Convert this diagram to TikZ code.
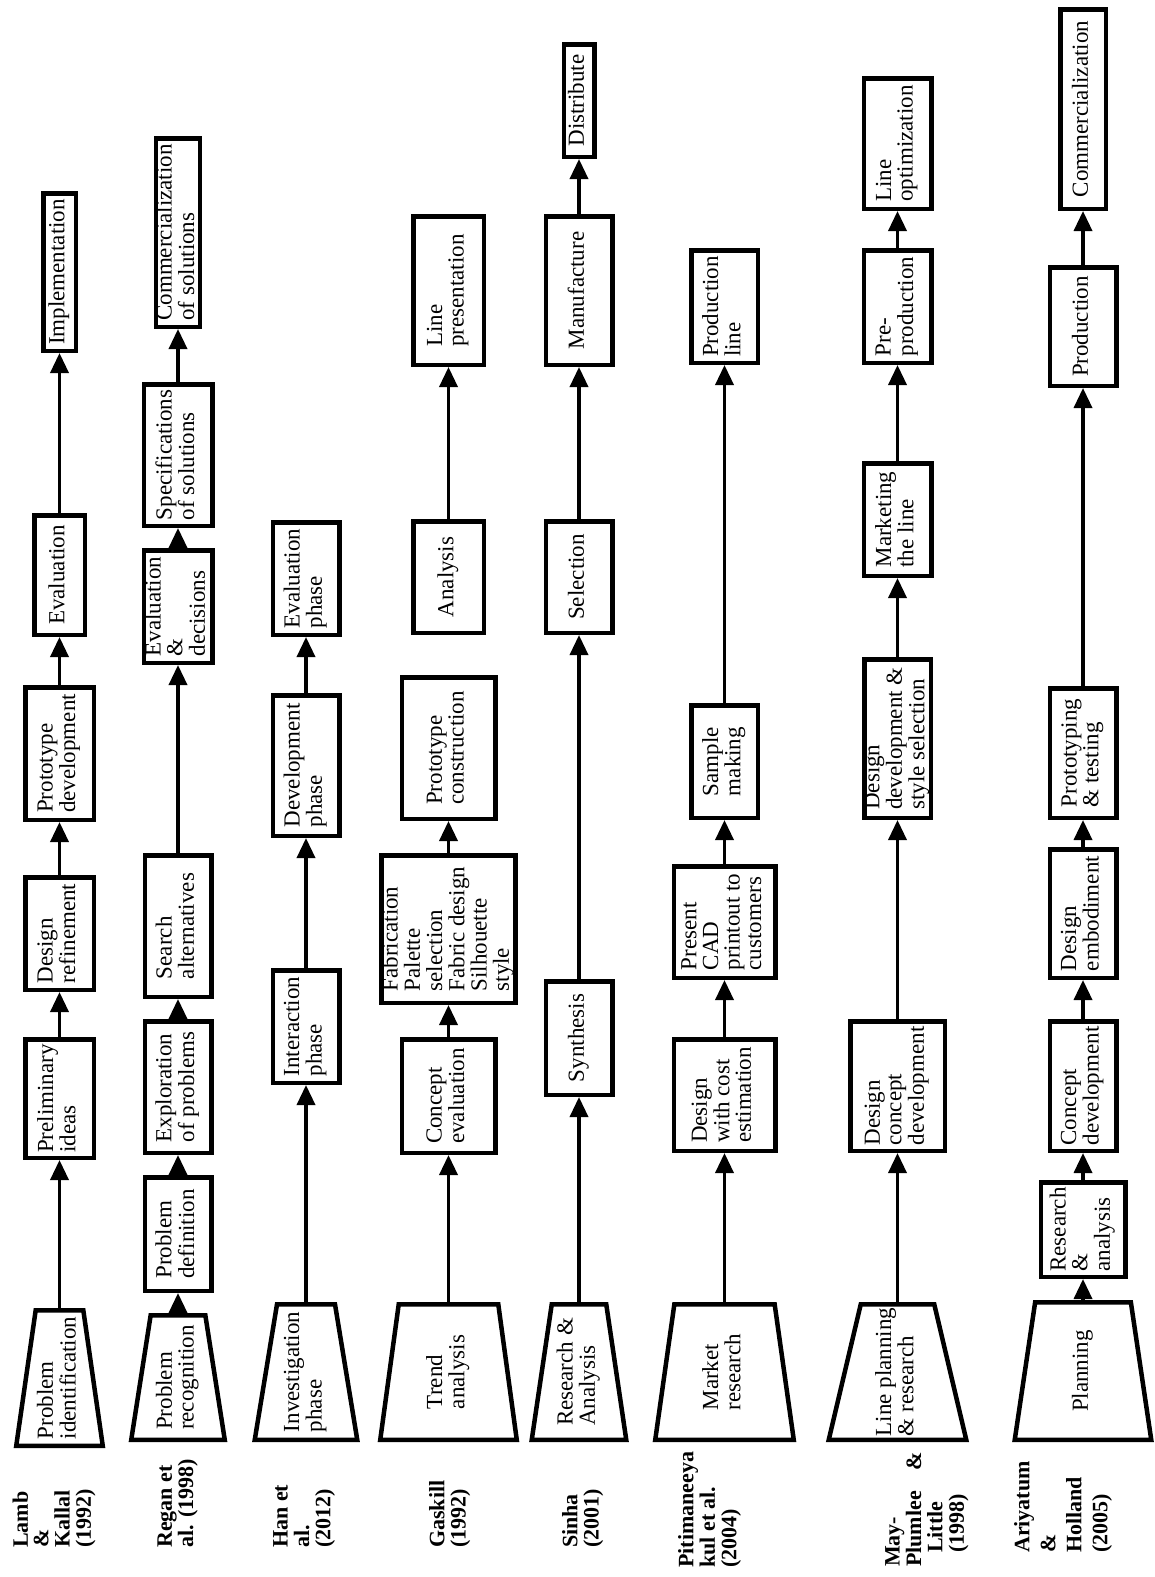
\documentclass[tikz,border=0pt]{standalone}
\usepackage{fontspec}
\setmainfont{Liberation Serif}
\usetikzlibrary{arrows.meta,shapes.geometric}
\newcommand\vt[1]{\rotatebox{90}{\begin{tabular}{@{}l@{}}#1\end{tabular}}}
\begin{document}
\begin{tikzpicture}[x=1pt,y=-1pt,
  box/.style={draw, line width=4.5pt, rectangle, inner sep=0pt, outer sep=2.25pt,
    font=\fontsize{23}{21.5}\selectfont},
  trap/.style={draw, line width=4.5pt, trapezium, trapezium stretches body,
    trapezium left angle=#1, trapezium right angle=#1,
    inner sep=0pt, outer sep=2.25pt, font=\fontsize{23}{21.5}\selectfont},
  arr/.style={line width=3.5pt, -{Triangle[length=20pt,width=18pt]}},
  lab/.style={inner sep=0pt, anchor=south west, font=\bfseries\fontsize{22}{20}\selectfont}]
\useasboundingbox (0,0) rectangle (1155,1577);

% ---------- Lamb & Kallal ----------
\node[trap=81, minimum width=86.5pt, minimum height=135.5pt] (L1) at (59.5,1378) {\vt{Problem\\identification}};
\node[box, minimum width=68.5pt, minimum height=118.5pt] (L2) at (59.5,1098.5) {\vt{Preliminary\\ideas}};
\node[box, minimum width=68.5pt, minimum height=112.5pt] (L3) at (59.5,933.5) {\vt{Design\\refinement}};
\node[box, minimum width=68.5pt, minimum height=132.5pt] (L4) at (59.5,753.5) {\vt{Prototype\\development}};
\node[box, minimum width=50.5pt, minimum height=119.5pt] (L5) at (59.5,575) {\vt{Evaluation}};
\node[box, minimum width=32.5pt, minimum height=157.5pt] (L6) at (59.5,272) {\vt{Implementation}};
\draw[arr] (L1) -- (L2);
\draw[arr] (L2) -- (L3);
\draw[arr] (L3) -- (L4);
\draw[arr] (L4) -- (L5);
\draw[arr] (L5) -- (L6);
\node[lab] (tL) at (12.3,1548) {\vt{Lamb\\\&\\Kallal\\(1992)}};

% ---------- Regan et al. ----------
\node[trap=79.5, minimum width=93.5pt, minimum height=124.5pt] (R1) at (178,1377.5) {\vt{Problem\\recognition}};
\node[box, minimum width=66.5pt, minimum height=113.5pt] (R2) at (178,1234) {\vt{Problem\\definition}};
\node[box, minimum width=66.5pt, minimum height=131.5pt] (R3) at (178,1087) {\vt{Exploration\\of problems}};
\node[box, minimum width=66.5pt, minimum height=141.5pt] (R4) at (178,926) {\vt{Search\\alternatives}};
\node[box, minimum width=68.5pt, minimum height=112.5pt] (R5) at (178,606.5) {\vt{Evaluation\\\&\\decisions}};
\node[box, minimum width=68.5pt, minimum height=141.5pt] (R6) at (178,455) {\vt{Specifications\\of solutions}};
\node[box, minimum width=40.5pt, minimum height=188.5pt, font=\fontsize{23}{20.5}\selectfont] (R7) at (178,232.5) {\vt{Commercialization\\of solutions}};
\draw[arr] (R1) -- (R2);
\draw[arr] (R2) -- (R3);
\draw[arr] (R3) -- (R4);
\draw[arr] (R4) -- (R5);
\draw[arr] (R5) -- (R6);
\draw[arr] (R6) -- (R7);
\node[lab] (tR) at (157.3,1548) {\vt{Regan et\\al. (1998)}};

% ---------- Han et al. ----------
\node[trap=79.5, minimum width=102.5pt, minimum height=135.5pt] (H1) at (306,1372) {\vt{Investigation\\phase}};
\node[box, minimum width=66.5pt, minimum height=112.5pt] (H2) at (306,1026.5) {\vt{Interaction\\phase}};
\node[box, minimum width=66.5pt, minimum height=140.5pt] (H3) at (306,765.5) {\vt{Development\\phase}};
\node[box, minimum width=66.5pt, minimum height=112.5pt] (H4) at (306,578.5) {\vt{Evaluation\\phase}};
\draw[arr] (H1) -- (H2);
\draw[arr] (H2) -- (H3);
\draw[arr] (H3) -- (H4);
\node[lab, font=\bfseries\fontsize{22}{20.5}\selectfont] (tH) at (273,1548) {\vt{Han et\\al.\\(2012)}};

% ---------- Gaskill ----------
\node[trap=76, minimum width=136.5pt, minimum height=135.5pt] (G1) at (448.5,1372) {\vt{Trend\\analysis}};
\node[box, minimum width=93.5pt, minimum height=113.5pt] (G2) at (448.5,1096) {\vt{Concept\\evaluation}};
\node[box, minimum width=123.5pt, minimum height=147.5pt, font=\fontsize{23}{21}\selectfont] (G3) at (448.5,929) {\vt{Fabrication\\Palette\\selection\\Fabric design\\Silhouette\\style}};
\node[box, minimum width=93.5pt, minimum height=141.5pt] (G4) at (448.5,748) {\vt{Prototype\\construction}};
\node[box, minimum width=70.5pt, minimum height=111.5pt] (G5) at (448.5,577) {\vt{Analysis}};
\node[box, minimum width=70.5pt, minimum height=148.5pt] (G6) at (448.5,290.5) {\vt{Line\\presentation}};
\draw[arr] (G1) -- (G2);
\draw[arr] (G2) -- (G3);
\draw[arr] (G3) -- (G4);
\draw[arr] (G5) -- (G6);
\node[lab] (tG) at (429,1548) {\vt{Gaskill\\(1992)}};

% ---------- Sinha ----------
\node[trap=79.5, minimum width=94.5pt, minimum height=135.5pt] (S1) at (579,1372) {\vt{Research \&\\Analysis}};
\node[box, minimum width=66.5pt, minimum height=113.5pt] (S2) at (579,1038) {\vt{Synthesis}};
\node[box, minimum width=66.5pt, minimum height=111.5pt] (S3) at (579,577) {\vt{Selection}};
\node[box, minimum width=66.5pt, minimum height=148.5pt] (S4) at (579,290.5) {\vt{Manufacture}};
\node[box, minimum width=30.5pt, minimum height=112.5pt] (S5) at (579,100.5) {\vt{Distribute}};
\draw[arr] (S1) -- (S2);
\draw[arr] (S2) -- (S3);
\draw[arr] (S3) -- (S4);
\draw[arr] (S4) -- (S5);
\node[lab] (tS) at (562,1548) {\vt{Sinha\\(2001)}};

% ---------- Pitimaneeyakul et al. ----------
\node[trap=76, minimum width=138.5pt, minimum height=135.5pt] (P1) at (724.5,1372) {\vt{Market\\research}};
\node[box, minimum width=101.5pt, minimum height=111.5pt] (P2) at (724.5,1095) {\vt{Design\\with cost\\estimation}};
\node[box, minimum width=101.5pt, minimum height=111.5pt] (P3) at (724.5,922) {\vt{Present\\CAD\\printout to\\customers}};
\node[box, minimum width=66.5pt, minimum height=112.5pt] (P4) at (724.5,761.5) {\vt{Sample\\making}};
\node[box, minimum width=66.5pt, minimum height=112.5pt] (P5) at (724.5,306.5) {\vt{Production\\line}};
\draw[arr] (P1) -- (P2);
\draw[arr] (P2) -- (P3);
\draw[arr] (P3) -- (P4);
\draw[arr] (P4) -- (P5);
\node[lab, font=\bfseries\fontsize{22}{20.5}\selectfont] (tP) at (678,1568) {\vt{Pitimaneeya\\kul et al.\\(2004)}};

% ---------- May-Plumlee & Little ----------
\node[trap=76, minimum width=137.5pt, minimum height=135.5pt] (M1) at (897.5,1372) {\vt{Line planning\\\& research}};
\node[box, minimum width=94.5pt, minimum height=129.5pt] (M2) at (897.5,1086) {\vt{Design\\concept\\development}};
\node[box, minimum width=66.5pt, minimum height=158.5pt] (M3) at (897.5,738.5) {\vt{Design\\development \&\\style selection}};
\node[box, minimum width=67.5pt, minimum height=112.5pt] (M4) at (897.5,519.5) {\vt{Marketing\\the line}};
\node[box, minimum width=67.5pt, minimum height=112.5pt] (M5) at (897.5,306.5) {\vt{Pre-\\production}};
\node[box, minimum width=67.5pt, minimum height=130.5pt] (M6) at (897.5,143.5) {\vt{Line\\optimization}};
\draw[arr] (M1) -- (M2);
\draw[arr] (M2) -- (M3);
\draw[arr] (M3) -- (M4);
\draw[arr] (M4) -- (M5);
\draw[arr] (M5) -- (M6);
\node[lab, font=\bfseries\fontsize{22}{20.5}\selectfont] (tM) at (885,1567) {\vt{May-\\\makebox[115pt][s]{Plumlee \&}\\\hspace*{14pt}Little\\\hspace*{14pt}(1998)}};

% ---------- Ariyatum & Holland ----------
\node[trap=76, minimum width=136.5pt, minimum height=137.5pt] (A1) at (1083,1371) {\vt{Planning}};
\node[box, minimum width=84.5pt, minimum height=94.5pt] (A2) at (1083,1229.5) {\vt{Research\\\&\\analysis}};
\node[box, minimum width=66.5pt, minimum height=129.5pt] (A3) at (1083,1086) {\vt{Concept\\development}};
\node[box, minimum width=66.5pt, minimum height=128.5pt] (A4) at (1083,913.5) {\vt{Design\\embodiment}};
\node[box, minimum width=66.5pt, minimum height=129.5pt] (A5) at (1083,753) {\vt{Prototyping\\\& testing}};
\node[box, minimum width=66.5pt, minimum height=118.5pt] (A6) at (1083,326.5) {\vt{Production}};
\node[box, minimum width=45.5pt, minimum height=199.5pt] (A7) at (1083,109) {\vt{Commercialization}};
\draw[arr] (A1) -- (A2);
\draw[arr] (A2) -- (A3);
\draw[arr] (A3) -- (A4);
\draw[arr] (A4) -- (A5);
\draw[arr] (A5) -- (A6);
\draw[arr] (A6) -- (A7);
\node[lab, font=\bfseries\fontsize{22}{26}\selectfont] (tA) at (1011,1553) {\vt{Ariyatum\\\&\\Holland\\(2005)}};
\end{tikzpicture}
\end{document}
